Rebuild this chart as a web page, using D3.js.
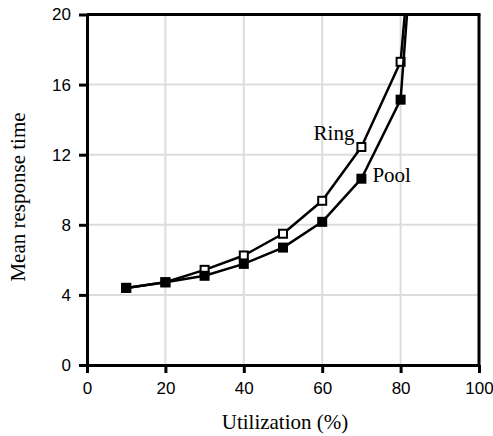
<!DOCTYPE html>
<html>
<head>
<meta charset="utf-8">
<script src="https://cdn.jsdelivr.net/npm/d3@7"></script>
<style>
  html, body { margin: 0; padding: 0; background: #fff; }
  svg { display: block; }
  .tick text { font-family: "Liberation Sans", Arial, sans-serif; font-size: 17px; fill: #000; }
  .title { font-family: "Liberation Serif", "Times New Roman", serif; font-size: 21px; fill: #000; }
</style>
</head>
<body>
<svg id="chart" width="493" height="436"></svg>
<script>
// Mean response time vs. utilization for the two allocation schemes
const utilization = [10, 20, 30, 40, 50, 60, 70, 80, 85];
const ringTime    = [4.4, 4.72, 5.43, 6.25, 7.49, 9.37, 12.44, 17.3, 30];
const poolTime    = [4.4, 4.72, 5.09, 5.77, 6.7, 8.17, 10.63, 15.14, 30];
const xTicks = [0, 20, 40, 60, 80, 100];
const yTicks = [0, 4, 8, 12, 16, 20];

const margin = { left: 87, right: 14, top: 14.5, bottom: 71 };
const W = 493, H = 436;
const svg = d3.select("#chart");

const x = d3.scaleLinear().domain([0, 100]).range([margin.left, W - margin.right]);
const y = d3.scaleLinear().domain([0, 20]).range([H - margin.bottom, margin.top]);

// grid
const grid = svg.append("g");
grid.selectAll("line.gx").data(xTicks.slice(1, -1)).join("line")
  .attr("x1", d => x(d)).attr("x2", d => x(d))
  .attr("y1", y(0)).attr("y2", y(20))
  .attr("stroke", "#dcdcdc").attr("stroke-width", 2);
grid.selectAll("line.gy").data(yTicks.slice(1, -1)).join("line")
  .attr("x1", x(0)).attr("x2", x(100))
  .attr("y1", d => y(d)).attr("y2", d => y(d))
  .attr("stroke", "#dcdcdc").attr("stroke-width", 2);

// series
svg.append("clipPath").attr("id", "plot-clip").append("rect")
  .attr("x", x(0)).attr("y", y(20))
  .attr("width", x(100) - x(0)).attr("height", y(0) - y(20));

const line = d3.line().x(d => x(d[0])).y(d => y(d[1]));
const series = [
  { name: "Ring", values: ringTime, fill: "#fff" },
  { name: "Pool", values: poolTime, fill: "#000" }
];
const plot = svg.append("g").attr("clip-path", "url(#plot-clip)");
series.forEach(s => {
  const pts = utilization.map((u, i) => [u, s.values[i]]);
  plot.append("path").datum(pts)
    .attr("d", line).attr("fill", "none")
    .attr("stroke", "#000").attr("stroke-width", 2.5)
    .attr("stroke-linejoin", "round");
  const m = 8;
  plot.selectAll(null).data(pts.filter(p => p[1] <= 20)).join("rect")
    .attr("x", d => x(d[0]) - m / 2).attr("y", d => y(d[1]) - m / 2)
    .attr("width", m).attr("height", m)
    .attr("fill", s.fill).attr("stroke", "#000").attr("stroke-width", 2);
});

// axes
const xAxis = svg.append("g").attr("transform", `translate(0,${y(0)})`)
  .call(d3.axisBottom(x).tickValues(xTicks).tickSize(8).tickPadding(9).tickSizeOuter(0));
const yAxis = svg.append("g").attr("transform", `translate(${x(0)},0)`)
  .call(d3.axisLeft(y).tickValues(yTicks).tickSize(8).tickPadding(8).tickSizeOuter(0));
[xAxis, yAxis].forEach(a => {
  a.select(".domain").attr("stroke", "#000").attr("stroke-width", 3);
  a.selectAll(".tick line").attr("stroke", "#000").attr("stroke-width", 3);
  a.attr("font-size", null).attr("font-family", null);
});

// frame top and right
svg.append("line").attr("x1", x(0)).attr("x2", x(100) + 1.5)
  .attr("y1", y(20)).attr("y2", y(20)).attr("stroke", "#000").attr("stroke-width", 3);
svg.append("line").attr("x1", x(100)).attr("x2", x(100))
  .attr("y1", y(20)).attr("y2", y(0)).attr("stroke", "#000").attr("stroke-width", 3);

// titles and series labels
svg.append("text").attr("class", "title")
  .attr("x", 285).attr("y", 429).attr("text-anchor", "middle")
  .text("Utilization (%)");
svg.append("text").attr("class", "title")
  .attr("transform", "translate(25,197) rotate(-90)").attr("text-anchor", "middle")
  .text("Mean response time");
svg.append("text").attr("class", "title")
  .attr("x", x(70) - 7).attr("y", y(12.44) - 7).attr("text-anchor", "end")
  .text("Ring");
svg.append("text").attr("class", "title")
  .attr("x", x(70) + 11).attr("y", y(10.63) + 3)
  .text("Pool");
</script>
</body>
</html>
